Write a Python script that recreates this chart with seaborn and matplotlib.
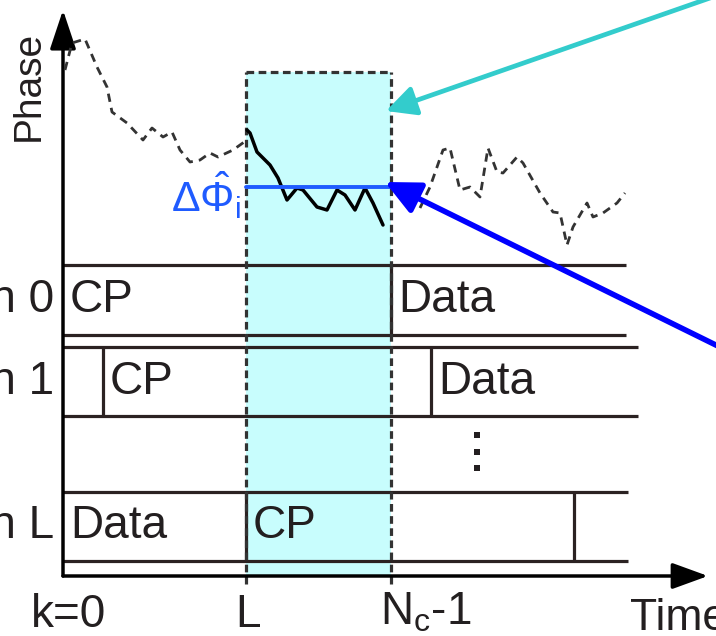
import matplotlib
matplotlib.use("Agg")
import matplotlib.pyplot as plt
import pandas as pd
import seaborn as sns

# ---- data -------------------------------------------------------------
# phase trajectory (time index, phase) before, inside and after the CP window
pre_t = [2, 9, 22, 34, 44, 49, 64, 80, 89, 100, 109, 117, 127, 137, 147, 155, 170, 184]
pre_phase = [506, 533, 537, 509, 489, 464, 453, 436, 448, 439, 444, 426, 414, 416, 423, 419, 426, 436]
win_t = [184, 187, 194, 200, 207, 215, 224, 234, 240, 254, 264, 274, 282, 292, 302, 310, 320]
win_phase = [446, 443, 424, 418, 411, 398, 376, 388, 386, 369, 366, 386, 381, 366, 388, 373, 351]
post_t = [357, 367, 380, 387, 397, 407, 417, 425, 434, 440, 454, 460, 477, 490, 497,
          504, 510, 524, 530, 540, 554, 562]
post_phase = [368, 389, 426, 428, 386, 389, 379, 428, 404, 403, 419, 413, 383, 364, 363,
              331, 349, 373, 359, 363, 373, 383]
est_phase = 389          # averaged phase estimate inside the window

# time markers
tick_pos = [0, 183, 328]
tick_labels = ["k=0", "L", r"N$_\mathrm{c}$-1"]
window_top = 504

# candidate positions (rows of CP/Data blocks)
row_labels = ["Position 0", "Position 1", "Position L"]
row_top = [311, 229, 84]
row_bottom = [241, 160, 15]
row_end = [563, 575, 565]
row_cuts = [[328], [40, 368], [183, 511]]
row_blocks = [[("CP", 0), ("Data", 328)],
              [("CP", 40), ("Data", 368)],
              [("Data", 0), ("CP", 183)]]
dots_t = [414, 414, 414]
dots_y = [141, 124, 108]

# ---- style ------------------------------------------------------------
sns.set_theme(style="white")
plt.rcParams["font.family"] = ["Liberation Sans", "DejaVu Sans"]
plt.rcParams["mathtext.fontset"] = "custom"
plt.rcParams["mathtext.rm"] = "Liberation Sans"
plt.rcParams["mathtext.it"] = "Liberation Sans:italic"
plt.rcParams["mathtext.bf"] = "Liberation Sans:bold"

INK = "#231f20"
fig = plt.figure(figsize=(7.16, 6.36), dpi=100)
ax = fig.add_axes([0, 0, 1, 1])
ax.set_xlim(-63, 653)
ax.set_ylim(-60, 576)
ax.axis("off")

# CP observation window
ax.fill_between([tick_pos[1], tick_pos[2]], 0, window_top, color="#c8fdfd", lw=0, zorder=0)
box_ls = (0, (2.4, 1.4))
for xv in tick_pos[1:]:
    ax.plot([xv, xv], [-8, window_top], color="#333333", lw=2.3, ls=box_ls, zorder=3)
ax.plot([tick_pos[1], tick_pos[2]], [window_top, window_top], color="#333333",
        lw=2.3, ls=box_ls, zorder=3)

# phase curves
dash = (0, (3.0, 2.2))
sns.lineplot(x=pre_t, y=pre_phase, ax=ax, color="#333333", lw=2.0, linestyle=dash,
             estimator=None, zorder=4)
sns.lineplot(x=post_t, y=post_phase, ax=ax, color="#333333", lw=2.0, linestyle=dash,
             estimator=None, zorder=4)
sns.lineplot(x=win_t, y=win_phase, ax=ax, color="black", lw=2.5,
             estimator=None, zorder=5)
ax.plot([tick_pos[1], tick_pos[2]], [est_phase, est_phase], color="#1f5bff", lw=2.8, zorder=6)
ax.text(178, 364, r"$\Delta\hat{\Phi}_\mathrm{i}$", color="#1f5bff", fontsize=31,
        ha="right", va="baseline")

# CP / Data rows
for i in range(len(row_labels)):
    ax.hlines([row_top[i], row_bottom[i]], 0, row_end[i], color="#2b2222", lw=2.3, zorder=2)
    ax.vlines(row_cuts[i], row_bottom[i], row_top[i], color="#2b2222", lw=2.3, zorder=2)
    mid = (row_top[i] + row_bottom[i]) / 2
    for name, start in row_blocks[i]:
        ax.text(start + 7, mid, name, fontsize=33, color=INK, ha="left", va="center")
    ax.text(-9, mid, row_labels[i], fontsize=33, color=INK, ha="right", va="center")
ax.scatter(dots_t, dots_y, s=24, marker="s", color=INK, lw=0, zorder=2)

# axes with arrow heads
ax.annotate("", xy=(0, 566), xytext=(0, 0),
            arrowprops=dict(arrowstyle="-|>,head_length=1.2,head_width=0.4",
                            mutation_scale=20, lw=2.5, color="black",
                            shrinkA=0, shrinkB=0), annotation_clip=False)
ax.annotate("", xy=(645, 0), xytext=(0, 0),
            arrowprops=dict(arrowstyle="-|>,head_length=1.1,head_width=0.4",
                            mutation_scale=20, lw=2.5, color="black",
                            shrinkA=0, shrinkB=0), annotation_clip=False)
ax.text(-34, 490, "Phase", rotation=90, fontsize=28, color=INK, ha="center", va="center")
ax.text(567, -54, "Time", fontsize=32, color=INK, ha="left", va="baseline")

# time markers
ax.text(tick_pos[0] + 5, -51, tick_labels[0], fontsize=33, color=INK, ha="center", va="baseline")
ax.text(tick_pos[1] + 2, -51, tick_labels[1], fontsize=33, color=INK, ha="center", va="baseline")
ax.text(tick_pos[2] - 11, -49, tick_labels[2], fontsize=33, color=INK, ha="left", va="baseline")

# call-out arrows
ax.annotate("", xy=(323, 465), xytext=(667, 585),
            arrowprops=dict(arrowstyle="-|>,head_length=0.9,head_width=0.45",
                            mutation_scale=20, lw=3.4, color="#33cccc",
                            shrinkA=0, shrinkB=0), annotation_clip=False, zorder=7)
ax.annotate("", xy=(322, 394), xytext=(667, 224),
            arrowprops=dict(arrowstyle="-|>,head_length=1.05,head_width=0.5",
                            mutation_scale=20, lw=4.0, color="#0000ff",
                            shrinkA=0, shrinkB=0), annotation_clip=False, zorder=7)

fig.savefig("out.png", dpi=100)
